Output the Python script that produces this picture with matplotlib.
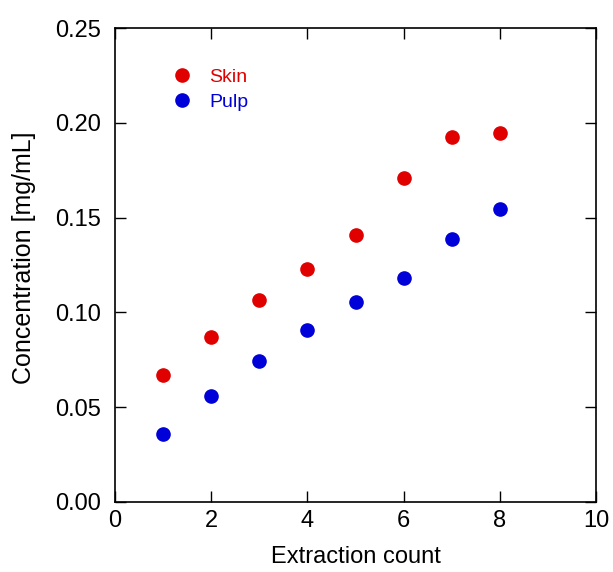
import matplotlib.pyplot as plt
import numpy as np

plt.rcParams['font.family'] = ['Liberation Sans', 'DejaVu Sans']

# extraction counts and concentrations
counts = [1, 2, 3, 4, 5, 6, 7, 8]
skin = [0.067, 0.087, 0.1065, 0.1228, 0.1408, 0.1708, 0.1925, 0.1946]
pulp = [0.036, 0.056, 0.0744, 0.0908, 0.1056, 0.1180, 0.1388, 0.1545]

red = '#e00000'
blue = '#0000d8'

fig = plt.figure(figsize=(6.13, 5.72), dpi=100)
ax = fig.add_axes([0.1876, 0.1224, 0.7847, 0.8286])

ax.plot(counts, skin, 'o', color=red, markersize=9.5, label='Skin')
ax.plot(counts, pulp, 'o', color=blue, markersize=9.5, label='Pulp')

ax.set_xlim(0, 10)
ax.set_ylim(0, 0.25)
ax.set_xticks(np.arange(0, 11, 2))
ax.set_yticks(np.arange(0, 0.26, 0.05))
ax.set_yticklabels([f'{v:.2f}' for v in np.arange(0, 0.26, 0.05)])

ax.tick_params(direction='in', top=True, right=True, length=8, width=1,
               labelsize=17)
ax.tick_params(axis='y', pad=10)
ax.tick_params(axis='x', pad=6)
for s in ax.spines.values():
    s.set_linewidth(1.2)

ax.set_xlabel('Extraction count', fontsize=17, labelpad=10)
ax.set_ylabel('Concentration [mg/mL]', fontsize=18)
ax.yaxis.set_label_coords(-0.165, 0.515)

leg = ax.legend(loc='upper left', bbox_to_anchor=(0.075, 0.952), frameon=False,
                fontsize=14, handletextpad=0.7, labelspacing=0.38,
                handlelength=1.4)
for t, c in zip(leg.get_texts(), [red, blue]):
    t.set_color(c)

fig.savefig('out.png', dpi=100)
